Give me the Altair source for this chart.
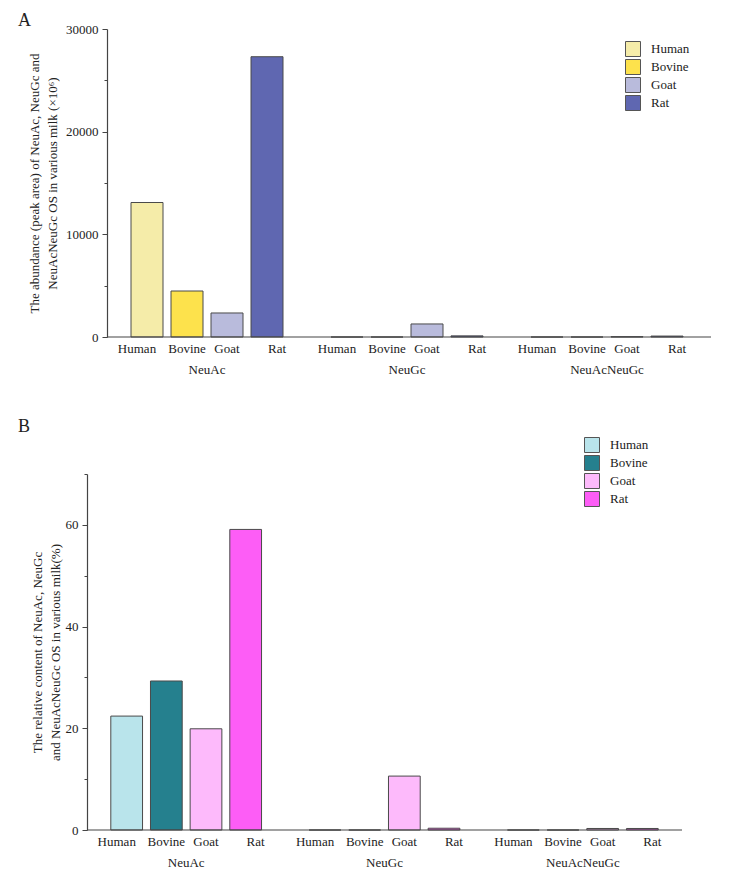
import altair as alt
import pandas as pd

groups = ["NeuAc", "NeuGc", "NeuAcNeuGc"]
species = ["Human", "Bovine", "Goat", "Rat"]

# Panel A: abundance (peak area, x10^6)
abund_neuac = [13100, 4480, 2340, 27300]
abund_neugc = [0, 0, 1270, 110]
abund_both = [0, 0, 30, 90]

# Panel B: relative content (%)
rel_neuac = [22.4, 29.3, 19.9, 59.1]
rel_neugc = [0, 0, 10.6, 0.35]
rel_both = [0, 0, 0.3, 0.3]

colors_a = ["#F5ECA9", "#FDE24C", "#B9BBDC", "#5F67B1"]
colors_b = ["#B9E4EB", "#25808E", "#FDBAFB", "#FD5DF6"]

label_shift = [-0.25, 0, 0, 0.25]

FONT = "Liberation Serif"
TXT = "#222222"
AX = "#444444"


def bar_frame(series):
    rows = []
    for gi, g in enumerate(groups):
        for si, s in enumerate(species):
            pos = gi * 5 + si
            rows.append({"group": g, "species": s, "value": series[gi][si],
                         "base": 0, "x0": pos - 0.4, "x1": pos + 0.4})
    return pd.DataFrame(rows)


def species_frame():
    rows = []
    for gi, g in enumerate(groups):
        for si, s in enumerate(species):
            rows.append({"lab": s, "lx": gi * 5 + si + label_shift[si]})
    return pd.DataFrame(rows)


def group_frame():
    return pd.DataFrame({"lab": groups, "lx": [gi * 5 + 1.5 for gi in range(len(groups))]})


def panel(series, colors, ymax, step, major, title_lines, w, h, xmin, xmax,
          legxy, letter, letter_xy, title_pad, yoff):
    xs = alt.Scale(domain=[xmin, xmax], nice=False, zero=False)
    bars = alt.Chart(bar_frame(series)).mark_bar(
        stroke="#4a4a4a", strokeWidth=1
    ).encode(
        x=alt.X("x0:Q", scale=xs, axis=None),
        x2="x1:Q",
        y=alt.Y("value:Q",
                scale=alt.Scale(domain=[0, ymax], nice=False, padding=0),
                axis=alt.Axis(
                    values=list(range(0, ymax + 1, step)),
                    labelExpr=f"datum.value % {major} === 0 ? datum.label : ''",
                    tickSize={"condition": {"test": f"datum.value % {major} === 0", "value": 5}, "value": 3},
                    offset=yoff,
                    grid=False, domainColor=AX, domainWidth=1.2, tickColor=AX,
                    labelFont=FONT, labelFontSize=13, labelColor=TXT, labelPadding=4,
                    title=title_lines, titleFont=FONT, titleFontSize=13,
                    titleFontWeight="normal", titleColor=TXT, titleLineHeight=18,
                    titlePadding=title_pad, format="d")),
        y2="base:Q",
        fill=alt.Fill("species:N",
                      scale=alt.Scale(domain=species, range=colors),
                      legend=alt.Legend(orient="none", legendX=legxy[0], legendY=legxy[1],
                                        title=None, symbolType="square", symbolSize=225,
                                        symbolStrokeColor="#555555", symbolStrokeWidth=1,
                                        labelFont=FONT, labelFontSize=13, labelColor=TXT,
                                        labelOffset=10, rowPadding=-4, padding=0)),
    )
    base = alt.Chart(pd.DataFrame({"t": [0]})).mark_rule(
        color=AX, strokeWidth=1.2
    ).encode(x=alt.value(-yoff), x2=alt.value(w), y=alt.value(h))
    sp = alt.Chart(species_frame()).mark_text(
        font=FONT, fontSize=13, color=TXT, baseline="middle"
    ).encode(x=alt.X("lx:Q", scale=xs), y=alt.value(h + 12), text="lab:N")
    gp = alt.Chart(group_frame()).mark_text(
        font=FONT, fontSize=13, color=TXT, baseline="middle"
    ).encode(x=alt.X("lx:Q", scale=xs), y=alt.value(h + 33), text="lab:N")
    lt = alt.Chart(pd.DataFrame({"t": [letter]})).mark_text(
        font=FONT, fontSize=18, color=TXT, align="left", baseline="middle"
    ).encode(x=alt.value(letter_xy[0]), y=alt.value(letter_xy[1]), text="t:N")
    return alt.layer(bars, base, sp, gp, lt).properties(width=w, height=h)


pa = panel([abund_neuac, abund_neugc, abund_both], colors_a, 30000, 5000, 10000,
           ["The abundance (peak area) of NeuAc, NeuGc and",
            "NeuAcNeuGc OS in various milk (×10⁶)"],
           604, 308, -1.0, 14.1, (518, 12), "A", (-89, -8), 6, 0)

pb = panel([rel_neuac, rel_neugc, rel_both], colors_b, 70, 10, 20,
           ["The relative content of NeuAc, NeuGc",
            "and NeuAcNeuGc OS in various milk(%)"],
           575, 356, -0.496, 14.0, (477, -37), "B", (-89, -47), 3, 20)

chart = alt.vconcat(pa, pb, spacing=41).resolve_scale(
    x="independent", y="independent", fill="independent"
).properties(
    padding={"left": 10, "top": 4, "right": 5, "bottom": 5},
    background="white"
).configure(font=FONT).configure_legend(labelFont=FONT).configure_view(stroke=None)

chart.save("out.html", embed_options={"renderer": "svg", "actions": False})
